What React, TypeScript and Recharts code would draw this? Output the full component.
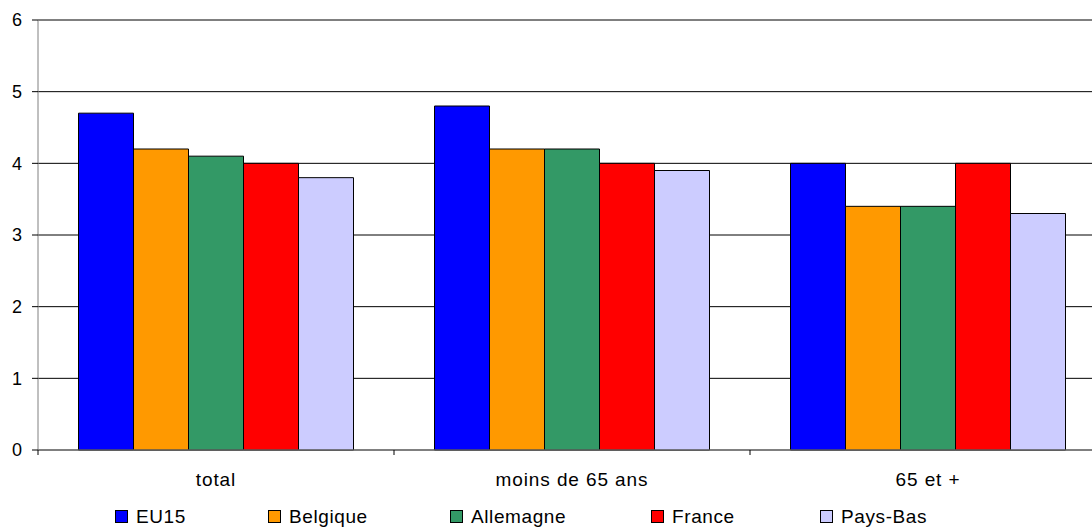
import React from "react";
import { Bar, BarChart, CartesianGrid, Legend, XAxis, YAxis } from "recharts";

const CATEGORIES = ["total", "moins de 65 ans", "65 et +"];
const EU15 = [4.7, 4.8, 4.0];
const BELGIQUE = [4.2, 4.2, 3.4];
const ALLEMAGNE = [4.1, 4.2, 3.4];
const FRANCE = [4.0, 4.0, 4.0];
const PAYS_BAS = [3.8, 3.9, 3.3];
const Y_TICKS = [0, 1, 2, 3, 4, 5, 6];

const SERIES = [
  { key: "EU15", values: EU15, color: "#0000FF" },
  { key: "Belgique", values: BELGIQUE, color: "#FF9900" },
  { key: "Allemagne", values: ALLEMAGNE, color: "#339966" },
  { key: "France", values: FRANCE, color: "#FF0000" },
  { key: "Pays-Bas", values: PAYS_BAS, color: "#CCCCFF" },
];
const SERIES_ORDER = SERIES.map((s) => s.key);

const data = CATEGORIES.map((cat, i) => {
  const row: Record<string, string | number> = { cat };
  SERIES.forEach((s) => (row[s.key] = s.values[i]));
  return row;
});

const FONT = '"Liberation Sans", Arial, sans-serif';
const W = 1106;
const H = 529;
const Y_W = 38;
const PLOT_BOTTOM = 450;
const BAND = (W - Y_W) / CATEGORIES.length;

// positions des entrées de légende (comme dans l'original Excel)
const LEGEND_X = [115, 268, 450, 651, 820];

function XTick(props: any) {
  const { x, payload, index } = props;
  const half = BAND / 2;
  return (
    <g>
      <line x1={x - half} x2={x - half} y1={PLOT_BOTTOM} y2={PLOT_BOTTOM + 5} stroke="#000" />
      {index === CATEGORIES.length - 1 && (
        <line x1={x + half} x2={x + half} y1={PLOT_BOTTOM} y2={PLOT_BOTTOM + 5} stroke="#000" />
      )}
      <text
        x={x}
        y={486}
        textAnchor="middle"
        fontFamily={FONT}
        fontSize={19}
        letterSpacing={0.9}
        fill="#000"
      >
        {payload.value}
      </text>
    </g>
  );
}

function Legende({ payload }: any) {
  const items = [...(payload || [])].sort(
    (a: any, b: any) => SERIES_ORDER.indexOf(a.value) - SERIES_ORDER.indexOf(b.value)
  );
  return (
    <div style={{ position: "relative", width: 1092, height: 39 }}>
      {items.map((p: any, i: number) => (
        <div
          key={p.value}
          style={{
            position: "absolute",
            left: LEGEND_X[i],
            top: 17,
            display: "flex",
            alignItems: "center",
            fontFamily: FONT,
            fontSize: 19,
            letterSpacing: 0.6,
            lineHeight: "19px",
            color: "#000",
            whiteSpace: "nowrap",
          }}
        >
          <span
            style={{
              display: "inline-block",
              width: 11,
              height: 11,
              background: p.color,
              border: "1px solid #000",
              marginRight: 8,
            }}
          />
          {p.value}
        </div>
      ))}
    </div>
  );
}

export default function App() {
  return (
    <div
      style={{
        position: "fixed",
        left: 0,
        top: 0,
        width: 1092,
        height: 529,
        overflow: "hidden",
        background: "#fff",
      }}
    >
      <BarChart
        width={W}
        height={H}
        data={data}
        margin={{ top: 20, right: 0, bottom: 0, left: 0 }}
        barCategoryGap="11.38%"
        barGap={0}
      >
        <CartesianGrid vertical={false} stroke="#000" />
        <XAxis
          dataKey="cat"
          height={40}
          axisLine={{ stroke: "#808080" }}
          tickLine={false}
          tick={<XTick />}
          interval={0}
        />
        <YAxis
          width={Y_W}
          domain={[0, 6]}
          ticks={Y_TICKS}
          interval={0}
          axisLine={{ stroke: "#808080" }}
          tickLine={{ stroke: "#000" }}
          tickSize={6}
          tickMargin={10}
          tick={{ fill: "#000", fontSize: 18, fontFamily: FONT }}
        />
        <Legend
          verticalAlign="bottom"
          content={<Legende />}
          itemSorter={null}
          wrapperStyle={{ left: 0 }}
        />
        {SERIES.map((s) => (
          <Bar
            key={s.key}
            dataKey={s.key}
            fill={s.color}
            stroke="#000"
            strokeWidth={1}
            isAnimationActive={false}
          />
        ))}
      </BarChart>
    </div>
  );
}
